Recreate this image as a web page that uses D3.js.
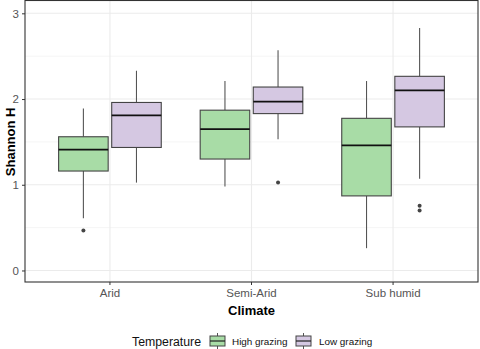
<!DOCTYPE html>
<html>
<head>
<meta charset="utf-8">
<script src="https://cdn.jsdelivr.net/npm/d3@7"></script>
<style>
  body { margin: 0; background: #fff; }
  svg { display: block; font-family: "Liberation Sans", Arial, sans-serif; }
</style>
</head>
<body>
<div id="chart"></div>
<script>
const climates = ["Arid", "Semi-Arid", "Sub humid"];
const groups = ["High grazing", "Low grazing"];
const fills = ["#a8dca6", "#d5c8e2"];

// five-number summaries per climate: [lowWhisker, q1, median, q3, highWhisker]
const highGrazing = [
  [0.61, 1.16, 1.41, 1.56, 1.89],
  [0.98, 1.30, 1.65, 1.87, 2.21],
  [0.26, 0.87, 1.46, 1.775, 2.21]
];
const lowGrazing = [
  [1.025, 1.435, 1.81, 1.96, 2.33],
  [1.53, 1.83, 1.97, 2.14, 2.57],
  [1.07, 1.675, 2.10, 2.265, 2.83]
];
const highOutliers = [[0.465], [], []];
const lowOutliers = [[], [1.025], [0.755, 0.70]];
const yTicks = [0, 1, 2, 3];

const W = 480, H = 349;
const panel = {left: 25, top: 0.5, right: 478, bottom: 282};

const svg = d3.select("#chart").append("svg")
  .attr("width", W).attr("height", H);

const y = d3.scaleLinear()
  .domain([-0.1345, 3.1495])
  .range([panel.bottom, panel.top]);

const x = d3.scaleBand()
  .domain(climates)
  .range([panel.left, panel.right])
  .paddingOuter(0.1);

const sub = d3.scaleBand()
  .domain(groups)
  .range([-0.375, 0.375]);

const bw = x.bandwidth();
const boxW = 0.7 / 2 * bw;

// grid
const grid = svg.append("g");
[0.5, 1.5, 2.5].forEach(v => {
  grid.append("line")
    .attr("x1", panel.left).attr("x2", panel.right)
    .attr("y1", y(v)).attr("y2", y(v))
    .attr("stroke", "#f2f2f2").attr("stroke-width", 0.8);
});
yTicks.forEach(v => {
  grid.append("line")
    .attr("x1", panel.left).attr("x2", panel.right)
    .attr("y1", y(v)).attr("y2", y(v))
    .attr("stroke", "#ebebeb").attr("stroke-width", 1.1);
});
climates.forEach(c => {
  const cx = x(c) + bw / 2;
  grid.append("line")
    .attr("x1", cx).attr("x2", cx)
    .attr("y1", panel.top).attr("y2", panel.bottom)
    .attr("stroke", "#ebebeb").attr("stroke-width", 1.1);
});

// boxes
function drawBoxes(stats, outliers, gi) {
  climates.forEach((c, i) => {
    const s = stats[i];
    const cx = x(c) + bw / 2 + (sub(groups[gi]) + sub.bandwidth() / 2) * bw;
    const g = svg.append("g");
    g.append("line")
      .attr("x1", cx).attr("x2", cx)
      .attr("y1", y(s[4])).attr("y2", y(s[3]))
      .attr("stroke", "#555").attr("stroke-width", 1.1);
    g.append("line")
      .attr("x1", cx).attr("x2", cx)
      .attr("y1", y(s[1])).attr("y2", y(s[0]))
      .attr("stroke", "#555").attr("stroke-width", 1.1);
    g.append("rect")
      .attr("x", cx - boxW / 2).attr("width", boxW)
      .attr("y", y(s[3])).attr("height", y(s[1]) - y(s[3]))
      .attr("fill", fills[gi]).attr("stroke", "#444").attr("stroke-width", 1.1);
    g.append("line")
      .attr("x1", cx - boxW / 2).attr("x2", cx + boxW / 2)
      .attr("y1", y(s[2])).attr("y2", y(s[2]))
      .attr("stroke", "#111").attr("stroke-width", 1.8);
    outliers[i].forEach(o => {
      g.append("circle")
        .attr("cx", cx).attr("cy", y(o)).attr("r", 2)
        .attr("fill", "#444");
    });
  });
}
drawBoxes(highGrazing, highOutliers, 0);
drawBoxes(lowGrazing, lowOutliers, 1);

// panel border
svg.append("rect")
  .attr("x", panel.left).attr("y", panel.top)
  .attr("width", panel.right - panel.left).attr("height", panel.bottom - panel.top)
  .attr("fill", "none").attr("stroke", "#333").attr("stroke-width", 1.1);

// axes
const yAxis = svg.append("g")
  .attr("transform", `translate(${panel.left},0)`)
  .call(d3.axisLeft(y).tickValues(yTicks).tickFormat(d3.format("d")).tickSize(3).tickPadding(3));
const xAxis = svg.append("g")
  .attr("transform", `translate(0,${panel.bottom})`)
  .call(d3.axisBottom(x).tickSize(3).tickPadding(4));
[yAxis, xAxis].forEach(a => {
  a.select(".domain").remove();
  a.selectAll(".tick line").attr("stroke", "#333");
  a.selectAll(".tick text")
    .attr("fill", "#555")
    .style("font-size", "11.5px")
    .style("font-family", "Liberation Sans, Arial, sans-serif");
});

svg.append("text")
  .attr("x", (panel.left + panel.right) / 2).attr("y", 315)
  .attr("text-anchor", "middle")
  .style("font-size", "13px").style("font-weight", "bold")
  .text("Climate");

svg.append("text")
  .attr("transform", `translate(14.5,${y(1.5)}) rotate(-90)`)
  .attr("text-anchor", "middle")
  .style("font-size", "13px").style("font-weight", "bold")
  .text("Shannon H");

// legend
const leg = svg.append("g").attr("transform", "translate(0,341)");
leg.append("text")
  .attr("x", 132).attr("y", 4.5)
  .style("font-size", "12.3px").attr("fill", "#111")
  .text("Temperature");
const keyX = [210, 296];
const labX = [232, 319];
groups.forEach((gname, i) => {
  const kx = keyX[i];
  leg.append("line")
    .attr("x1", kx + 7.5).attr("x2", kx + 7.5)
    .attr("y1", -8).attr("y2", 8)
    .attr("stroke", "#555");
  leg.append("rect")
    .attr("x", kx).attr("y", -5).attr("width", 15).attr("height", 10)
    .attr("fill", fills[i]).attr("stroke", "#444").attr("stroke-width", 1);
  leg.append("line")
    .attr("x1", kx).attr("x2", kx + 15)
    .attr("y1", 0).attr("y2", 0)
    .attr("stroke", "#222").attr("stroke-width", 1.2);
  leg.append("text")
    .attr("x", labX[i]).attr("y", 3.8)
    .style("font-size", "9.9px").attr("fill", "#111")
    .text(gname);
});
</script>
</body>
</html>
